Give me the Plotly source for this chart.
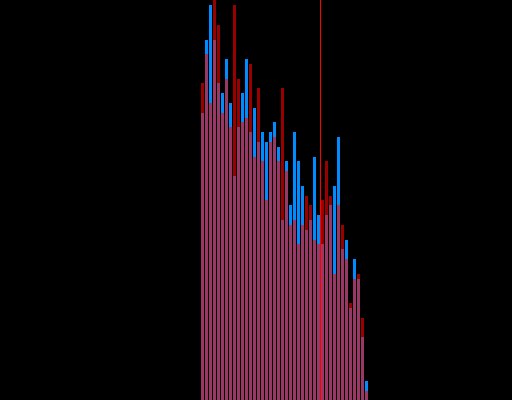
import plotly.graph_objects as go

bins = list(range(42))
blue_vals = [287, 360, 395, 360, 317, 307, 341, 297, 224, 273, 307, 341, 268, 292,
             258, 268, 258, 268, 278, 253, 180, 239, 195, 268, 239, 214, 170, 180,
             243, 185, 156, 185, 195, 214, 263, 151, 160, 92, 141, 121, 63, 19]
red_vals = [317, 346, 297, 400, 375, 287, 321, 273, 395, 321, 278, 282, 336, 243,
            312, 239, 200, 258, 263, 239, 312, 229, 175, 180, 156, 175, 204, 195,
            160, 156, 200, 239, 204, 126, 195, 175, 141, 97, 121, 126, 82, 9]
marker_x = 29.5

fig = go.Figure()
fig.add_trace(go.Bar(x=bins, y=blue_vals, width=0.75,
                     marker=dict(color="#008cff", line=dict(width=0))))
fig.add_trace(go.Bar(x=bins, y=red_vals, width=0.75, opacity=0.6,
                     marker=dict(color="#ff0000", line=dict(width=0))))
fig.add_shape(type="line", x0=marker_x, x1=marker_x, y0=0, y1=1,
              xref="x", yref="paper", line=dict(color="#ff0000", width=1))
fig.update_layout(
    width=512, height=400, barmode="overlay", showlegend=False,
    paper_bgcolor="black", plot_bgcolor="black",
    margin=dict(l=0, r=0, t=0, b=0),
    xaxis=dict(range=[-50.625, 77.375], visible=False),
    yaxis=dict(range=[0, 400], visible=False),
)
fig.write_html("out.html", config={"displayModeBar": False},
               post_script="document.body.style.margin='0';document.body.style.background='black';")
